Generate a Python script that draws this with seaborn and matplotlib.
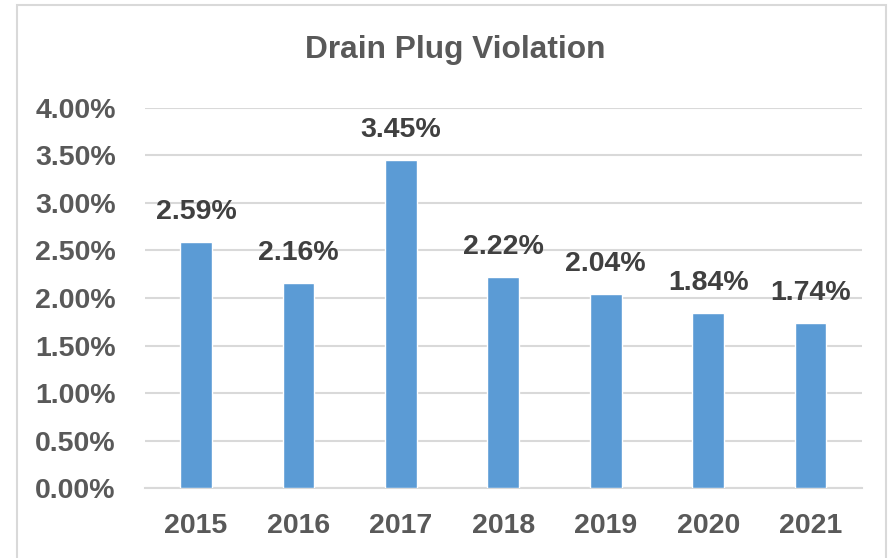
import matplotlib
matplotlib.use("Agg")
import matplotlib.pyplot as plt
import matplotlib.ticker as mticker
from matplotlib.patches import Rectangle
import seaborn as sns
import pandas as pd

# chart data
years = ["2015", "2016", "2017", "2018", "2019", "2020", "2021"]
violation_rate = [0.0259, 0.0216, 0.0345, 0.0222, 0.0204, 0.0184, 0.0174]

BAR_COLOR = "#5B9BD5"
TEXT_COLOR = "#595959"
LABEL_COLOR = "#404040"
GRID_COLOR = "#D9D9D9"
FS = 20.5

sns.set_theme(style="white")
plt.rcParams["font.family"] = ["Liberation Sans", "DejaVu Sans"]
plt.rcParams["font.weight"] = "bold"

df = pd.DataFrame({"Year": years, "Rate": violation_rate})

fig = plt.figure(figsize=(8.94, 5.58), dpi=100)
ax = fig.add_axes([0.162, 0.1254, 0.802, 0.6811])

sns.barplot(data=df, x="Year", y="Rate", color=BAR_COLOR, width=0.31,
            saturation=1, ax=ax, zorder=3)

# value labels
for i, v in enumerate(violation_rate):
    ax.annotate(f"{v:.2%}", xy=(i, v), xytext=(0, 21.5), textcoords="offset points",
                ha="center", va="center", fontsize=FS, fontweight="bold",
                color=LABEL_COLOR)

ax.set_ylim(0, 0.04)
ax.yaxis.set_major_locator(mticker.MultipleLocator(0.005))
ax.yaxis.set_major_formatter(mticker.PercentFormatter(xmax=1, decimals=2))
ax.set_xlabel("")
ax.set_ylabel("")

ax.grid(axis="y", color=GRID_COLOR, linewidth=1.5, zorder=0)
ax.set_axisbelow(True)
for side in ["top", "right", "left"]:
    ax.spines[side].set_visible(False)
ax.spines["bottom"].set_color(GRID_COLOR)
ax.spines["bottom"].set_linewidth(1.5)

ax.tick_params(axis="both", length=0, labelsize=FS, labelcolor=TEXT_COLOR)
ax.tick_params(axis="y", pad=21)
ax.tick_params(axis="x", pad=18)
for lbl in ax.get_xticklabels() + ax.get_yticklabels():
    lbl.set_fontweight("bold")

fig.text(455 / 894, 1 - 50 / 558, "Drain Plug Violation", ha="center", va="center",
         fontsize=22.8, fontweight="bold", color=TEXT_COLOR)

# chart area border
fig.patches.append(Rectangle((17 / 894, -0.02), (886 - 17) / 894, 1 - 5 / 558 + 0.02,
                             transform=fig.transFigure, fill=False,
                             edgecolor=GRID_COLOR, linewidth=1.5))

fig.savefig("out.png", dpi=100)
